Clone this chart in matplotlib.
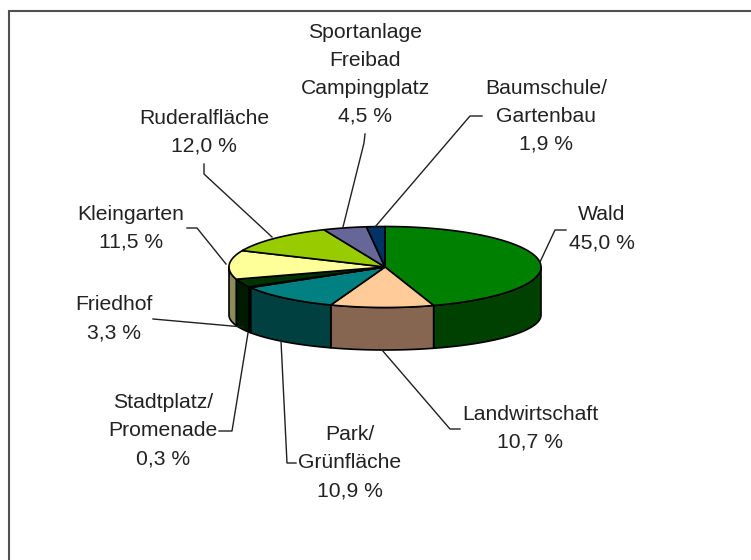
import numpy as np
import matplotlib
matplotlib.use('Agg')
import matplotlib.pyplot as plt

plt.rcParams['font.family'] = ['Liberation Sans', 'DejaVu Sans']

names = ['Wald', 'Landwirtschaft', 'Park/\nGrünfläche', 'Stadtplatz/\nPromenade', 'Friedhof',
         'Kleingarten', 'Ruderalfläche', 'Sportanlage\nFreibad\nCampingplatz', 'Baumschule/\nGartenbau']
values = [45.0, 10.7, 10.9, 0.3, 3.3, 11.5, 12.0, 4.5, 1.9]
top_colors = ['#008000', '#FFCC99', '#008080', '#000000', '#003300', '#FFFF99', '#99CC00', '#666699', '#003366']
side_colors = ['#004000', '#866650', '#004040', '#000000', '#001A00', '#8C8C5A', '#4D6600', '#333350', '#001A33']

# label centres in pixels
label_x = [602, 530, 350, 163, 114, 131, 204, 365, 546]
label_y = [229, 428, 463, 431, 319, 228, 132, 74, 116]

# leader lines in pixels
leaders = [
    ([540, 555, 566], [262, 230, 230]),
    ([382, 450, 460], [350, 429, 429]),
    ([281, 287, 296], [341, 463, 463]),
    ([248, 232, 219], [333, 431, 431]),
    ([243, 153], [327, 319]),
    ([226, 197, 187], [264, 228, 228]),
    ([272, 204, 204], [237, 174, 164]),
    ([343, 364, 365], [227, 143, 134]),
    ([375, 470, 482], [227, 116, 116]),
]

cx, cy, rx, ry = 385, 267, 156, 40.5
bottom_cy, bottom_ry = 315, 35


def top_edge(t):
    return cx + rx * np.sin(t), cy - ry * np.cos(t)


def bottom_edge(t):
    return cx + rx * np.sin(t), bottom_cy - bottom_ry * np.cos(t)


fig = plt.figure(figsize=(7.51, 5.6), dpi=100)
ax = fig.add_axes([0, 0, 1, 1])
ax.set_xlim(0, 751)
ax.set_ylim(560, 0)
ax.axis('off')

# chart border, only top and left show up
ax.plot([751, 9, 9], [11, 11, 560], color='#505050', lw=1.5, solid_joinstyle='miter')

ends = np.cumsum(values) / np.sum(values) * 2 * np.pi
starts = np.concatenate([[0], ends[:-1]])

# side walls, only the front half is visible
for a, b, c in zip(starts, ends, side_colors):
    a2 = max(a, np.pi / 2)
    b2 = min(b, 3 * np.pi / 2)
    if b2 <= a2:
        continue
    t = np.linspace(a2, b2, 80)
    x1, y1 = top_edge(t)
    x2, y2 = bottom_edge(t[::-1])
    ax.fill(np.r_[x1, x2], np.r_[y1, y2], facecolor=c, edgecolor='black', lw=1.2, joinstyle='round')

# top faces
for a, b, c in zip(starts, ends, top_colors):
    t = np.linspace(a, b, 150)
    x1, y1 = top_edge(t)
    ax.fill(np.r_[cx, x1], np.r_[cy, y1], facecolor=c, edgecolor='black', lw=1.2, joinstyle='round')

for lx, ly in leaders:
    ax.plot(lx, ly, color='#202020', lw=1.0)

for n, v, x, y in zip(names, values, label_x, label_y):
    s = n + '\n' + f'{v:.1f} %'.replace('.', ',')
    ax.text(x, y, s, ha='center', va='center', multialignment='center',
            fontsize=15.2, color='#222222', linespacing=1.6)

fig.savefig('out.png', dpi=100)
